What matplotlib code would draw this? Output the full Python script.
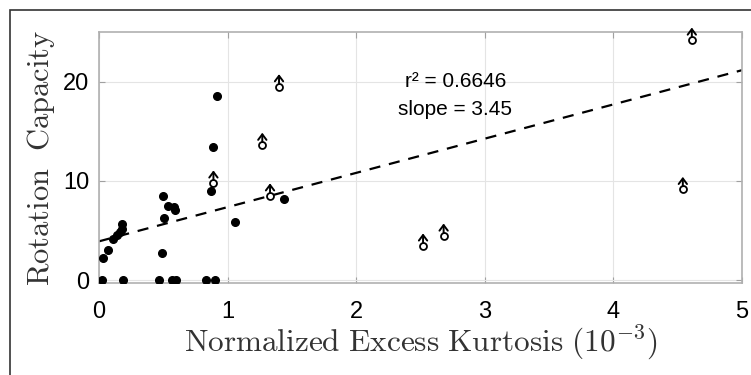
import matplotlib.pyplot as plt
from matplotlib.patches import Rectangle

plt.rcParams['font.family'] = ['Liberation Sans', 'DejaVu Sans']
plt.rcParams['mathtext.fontset'] = 'cm'

# measured specimens (filled dots)
kurt = [0.02, 0.19, 0.47, 0.565, 0.60, 0.83, 0.90,
        0.03, 0.07, 0.11, 0.14, 0.16, 0.18, 0.18,
        0.49, 0.505, 0.50, 0.54, 0.58, 0.59, 0.87, 1.06,
        0.89, 0.92, 1.44]
rot = [0, 0, 0, 0, 0, 0, 0,
       2.2, 3.0, 4.1, 4.5, 4.85, 5.1, 5.6,
       2.7, 6.3, 8.5, 7.5, 7.4, 7.1, 9.0, 5.8,
       13.4, 18.5, 8.2]

# specimens that did not fail (lower bounds, open circles with arrows)
kurt_lb = [1.40, 1.27, 0.89, 1.33, 2.52, 2.68, 4.54, 4.61]
rot_lb = [19.5, 13.6, 9.8, 8.5, 3.45, 4.45, 9.15, 24.2]

slope = 3.45
intercept = 3.9
fit_x = [0, 5]

fig = plt.figure(figsize=(7.51, 3.75), dpi=100)
ax = fig.add_axes([0.1318, 0.2453, 0.8562, 0.6694])

ax.plot(kurt, rot, 'o', color='black', markersize=5.5, zorder=3)
ax.plot(kurt_lb, rot_lb, 'o', markerfacecolor='white', markeredgecolor='black',
        markeredgewidth=1.3, markersize=5, zorder=3, clip_on=False)
for x, y in zip(kurt_lb, rot_lb):
    ax.annotate('', xy=(x, y + 1.25), xytext=(x, y + 0.3),
                annotation_clip=False,
                arrowprops=dict(arrowstyle='->,head_length=0.4,head_width=0.3',
                                color='black', lw=1.4,
                                shrinkA=0, shrinkB=0, mutation_scale=10))

ax.plot(fit_x, [intercept + slope * v for v in fit_x], '--', color='black',
        linewidth=1.6, dashes=(5, 4), zorder=2)

ax.text(2.77, 20.0, 'r\u00b2 = 0.6646', ha='center', va='center', fontsize=15)
ax.text(2.77, 17.2, 'slope = 3.45', ha='center', va='center', fontsize=15)

ax.set_xlim(0, 5)
ax.set_ylim(-0.3, 25)
ax.set_xticks([0, 1, 2, 3, 4, 5])
ax.set_yticks([0, 10, 20])
ax.tick_params(labelsize=17, direction='in', top=True, right=True,
               length=4, color='#a0a0a0')
ax.tick_params(axis='x', pad=13)
ax.tick_params(axis='y', pad=7)
for s in ax.spines.values():
    s.set_color('#b0b0b0')
    s.set_linewidth(1.2)
ax.grid(True, color='#e4e4e4', linewidth=0.8)
ax.set_axisbelow(True)

ax.set_xlabel(r'$\mathrm{Normalized\ Excess\ Kurtosis\ (10^{-3})}$',
              fontsize=22.5, labelpad=0, color='#333333')
ax.set_ylabel(r'$\mathrm{Rotation\ \ Capacity}$', fontsize=22, labelpad=4,
              color='#333333')

fig.add_artist(Rectangle((10 / 751, -0.5), 2, 0.9733 + 0.5, fill=False,
                         edgecolor='#333333', linewidth=1.2,
                         transform=fig.transFigure))

fig.savefig('out.png', dpi=100)
